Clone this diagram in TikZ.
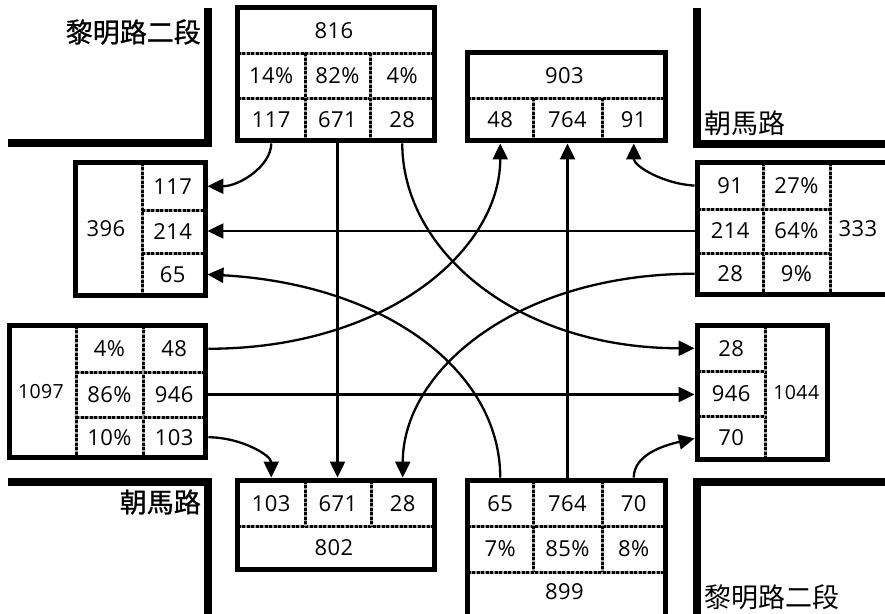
\documentclass[tikz,border=0pt]{standalone}
\usepackage{fontspec}
\usepackage{tikz}
\usetikzlibrary{arrows.meta}
\newfontfamily\cjk{Noto Sans CJK TC}
\newfontfamily\cjkbold[FakeBold=1]{Noto Sans CJK TC}
\newfontfamily\numfont[LetterSpace=2]{Open Sans}

\tikzset{
    road/.style={line width=8pt},
    box/.style={line width=5.5pt},
    sep/.style={line width=3pt, draw=gray!75, postaction={draw=black, dash pattern=on 3pt off 1.5pt}},
    cell/.style 2 args={inner sep=0pt, minimum width=#1, minimum height=#2, font=\numfont\fontsize{22}{24}\selectfont},
    bigcell/.style 2 args={cell={#1}{#2}, font=\numfont\fontsize{19.5}{22}\selectfont},
    flow/.style={line width=2.3pt, shorten <=2.75pt, shorten >=2.75pt, -{Triangle[length=16pt,width=15pt]}},
    street/.style={inner sep=0pt, font=\cjk\fontsize{27}{30}\selectfont},
    streetbold/.style={inner sep=0pt, font=\cjkbold\fontsize{27}{30}\selectfont},
}

\begin{document}
\begin{tikzpicture}[x=1pt, y=-1pt]
            \useasboundingbox (0,0) rectangle (885,613);

            \draw[road] (8,143) -- (208,143) -- (208,8);
            \draw[road] (696.5,8) -- (696.5,143.5) -- (895,143.5);
            \draw[road] (8,481.5) -- (207.5,481.5) -- (207.5,620);
            \draw[road] (895,481.5) -- (696.5,481.5) -- (696.5,620);
            \node[streetbold, anchor=east] (roadNW) at (201,32) {黎明路二段};
            \node[street, anchor=west] (roadNE) at (704,123) {朝馬路};
            \node[streetbold, anchor=east] (roadSW) at (201,502) {朝馬路};
            \node[street, anchor=west] (roadSE) at (704,597) {黎明路二段};

            \draw[sep] (237.5,53) -- (434.5,53);
            \draw[sep] (237.5,98) -- (434.5,98);
            \draw[sep] (305,53) -- (305,140.5);
            \draw[sep] (370,53) -- (370,140.5);
            \draw[box] (237.5,7.5) rectangle (434.5,140.5);
            \node[cell={197pt}{45.5pt}] (Nin) at (334,30.25) {816};
            \node[cell={67.5pt}{45pt}] (NinP1) at (271.25,75.5) {14\%};
            \node[cell={65pt}{45pt}] (NinP2) at (337.5,75.5) {82\%};
            \node[cell={64.5pt}{45pt}] (NinP3) at (402.25,75.5) {4\%};
            \node[cell={67.5pt}{42.5pt}] (Nin1) at (271.25,119.25) {117};
            \node[cell={65pt}{42.5pt}] (Nin2) at (337.5,119.25) {671};
            \node[cell={64.5pt}{42.5pt}] (Nin3) at (402.25,119.25) {28};

            \draw[sep] (467.5,98) -- (665.5,98);
            \draw[sep] (533,98) -- (533,140.5);
            \draw[sep] (602,98) -- (602,140.5);
            \draw[box] (467.5,52.5) rectangle (665.5,140.5);
            \node[cell={198pt}{45.5pt}] (Nout) at (564.5,75.25) {903};
            \node[cell={65.5pt}{42.5pt}] (Nout1) at (500.25,119.25) {48};
            \node[cell={69pt}{42.5pt}] (Nout2) at (567.5,119.25) {764};
            \node[cell={63.5pt}{42.5pt}] (Nout3) at (633.75,119.25) {91};

            \draw[sep] (142,162.5) -- (142,295.5);
            \draw[sep] (142,210) -- (205.5,210);
            \draw[sep] (142,253) -- (205.5,253);
            \draw[box] (75.5,162.5) rectangle (205.5,295.5);
            \node[cell={66.5pt}{133pt}] (Wout) at (106,229) {396};
            \node[cell={63.5pt}{47.5pt}] (Wout1) at (172.75,186.25) {117};
            \node[cell={63.5pt}{43pt}] (Wout2) at (172.75,231.5) {214};
            \node[cell={63.5pt}{42.5pt}] (Wout3) at (172.75,274.25) {65};

            \draw[sep] (763,162.5) -- (763,294.5);
            \draw[sep] (830,162.5) -- (830,294.5);
            \draw[sep] (697.5,209) -- (830,209);
            \draw[sep] (697.5,253) -- (830,253);
            \draw[box] (697.5,162.5) rectangle (900,294.5);
            \node[cell={65.5pt}{46.5pt}] (Ein1) at (730.25,185.75) {91};
            \node[cell={65.5pt}{44pt}] (Ein2) at (730.25,231) {214};
            \node[cell={65.5pt}{41.5pt}] (Ein3) at (730.25,273.75) {28};
            \node[cell={67pt}{46.5pt}] (EinP1) at (796.5,185.75) {27\%};
            \node[cell={67pt}{44pt}] (EinP2) at (796.5,231) {64\%};
            \node[cell={67pt}{41.5pt}] (EinP3) at (796.5,273.75) {9\%};
            \node[cell={54pt}{132pt}] (Ein) at (858,228.5) {333};

            \draw[sep] (76,325.5) -- (76,457.5);
            \draw[sep] (143,325.5) -- (143,457.5);
            \draw[sep] (76,372) -- (205.5,372);
            \draw[sep] (76,417) -- (205.5,417);
            \draw[box] (9.5,325.5) rectangle (205.5,457.5);
            \node[bigcell={66.5pt}{132pt}] (Win) at (41,391.5) {1097};
            \node[cell={67pt}{46.5pt}] (WinP1) at (109.5,348.75) {4\%};
            \node[cell={67pt}{45pt}] (WinP2) at (109.5,394.5) {86\%};
            \node[cell={67pt}{40.5pt}] (WinP3) at (109.5,437.25) {10\%};
            \node[cell={62.5pt}{46.5pt}] (Win1) at (174.25,348.75) {48};
            \node[cell={62.5pt}{45pt}] (Win2) at (174.25,394.5) {946};
            \node[cell={62.5pt}{40.5pt}] (Win3) at (174.25,437.25) {103};

            \draw[sep] (765,325.5) -- (765,459.5);
            \draw[sep] (697.5,371) -- (765,371);
            \draw[sep] (697.5,416) -- (765,416);
            \draw[box] (697.5,325.5) rectangle (827.5,459.5);
            \node[cell={67.5pt}{45.5pt}] (Eout1) at (731.25,348.25) {28};
            \node[cell={67.5pt}{45pt}] (Eout2) at (731.25,393.5) {946};
            \node[cell={67.5pt}{43.5pt}] (Eout3) at (731.25,437.75) {70};
            \node[bigcell={62.5pt}{134pt}] (Eout) at (796.25,392.5) {1044};

            \draw[sep] (237.5,526) -- (434.5,526);
            \draw[sep] (305,480.5) -- (305,526);
            \draw[sep] (371,480.5) -- (371,526);
            \draw[box] (237.5,480.5) rectangle (434.5,569.5);
            \node[cell={67.5pt}{45.5pt}] (Sout1) at (271.25,503.25) {103};
            \node[cell={66pt}{45.5pt}] (Sout2) at (338,503.25) {671};
            \node[cell={63.5pt}{45.5pt}] (Sout3) at (402.75,503.25) {28};
            \node[cell={197pt}{43.5pt}] (Sout) at (334,547.75) {802};

            \draw[sep] (467.5,526) -- (665.5,526);
            \draw[sep] (467.5,572) -- (665.5,572);
            \draw[sep] (533,480.5) -- (533,572);
            \draw[sep] (602,480.5) -- (602,572);
            \draw[box] (467.5,480.5) rectangle (665.5,630);
            \node[cell={65.5pt}{45.5pt}] (Sin1) at (500.25,503.25) {65};
            \node[cell={69pt}{45.5pt}] (Sin2) at (567.5,503.25) {764};
            \node[cell={63.5pt}{45.5pt}] (Sin3) at (633.75,503.25) {70};
            \node[cell={65.5pt}{46pt}] (SinP1) at (500.25,549) {7\%};
            \node[cell={69pt}{46pt}] (SinP2) at (567.5,549) {85\%};
            \node[cell={63.5pt}{46pt}] (SinP3) at (633.75,549) {8\%};
            \node[cell={198pt}{40pt}] (Sin) at (564.5,592) {899};

            \draw[flow] (Nin1.south) .. controls +(0,25) and +(35,0) .. (Wout1.east);
            \draw[flow] (Nin2.south) -- (Nin2.south |- Sout2.north);
            \draw[flow] (Nin3.south) .. controls +(0,110) and +(-180,0) .. (Eout1.west);
            \draw[flow] (Ein1.west) .. controls +(-35,-2) and +(0,25) .. (Nout3.south);
            \draw[flow] (Ein2.west) -- (Ein2.west -| Wout2.east);
            \draw[flow] (Ein3.west) .. controls +(-180,0) and +(0,-110) .. (Sout3.north);
            \draw[flow] (Win1.east) .. controls +(180,0) and +(0,110) .. (Nout1.south);
            \draw[flow] (Win2.east) -- (Win2.east -| Eout2.west);
            \draw[flow] (Win3.east) .. controls +(35,0) and +(0,-25) .. (Sout1.north);
            \draw[flow] (Sin1.north) .. controls +(0,-110) and +(180,10) .. (Wout3.east);
            \draw[flow] (Sin2.north) -- (Sin2.north |- Nout2.south);
            \draw[flow] (Sin3.north) .. controls +(0,-25) and +(-35,8) .. (Eout3.west);
\end{tikzpicture}
\end{document}
